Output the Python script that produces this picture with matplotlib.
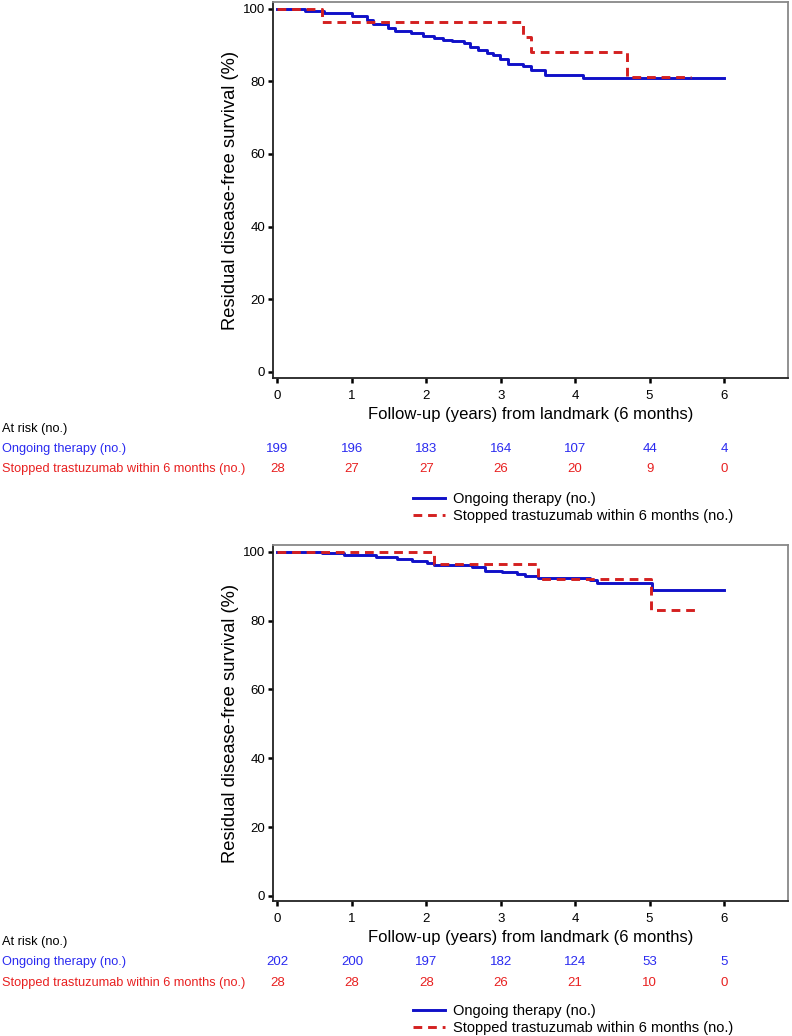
import matplotlib.pyplot as plt
from matplotlib.lines import Line2D
from matplotlib.transforms import blended_transform_factory

plt.rcParams['font.family'] = ['Liberation Sans', 'DejaVu Sans']

# Panel A (top): Kaplan-Meier steps
top_ongoing_t = [0, 0.37, 0.62, 1.0, 1.2, 1.29, 1.49, 1.58, 1.79, 1.96, 2.1, 2.23, 2.35, 2.5, 2.59,
                 2.7, 2.82, 2.9, 2.99, 3.1, 3.3, 3.4, 3.6, 4.1, 6.0]
top_ongoing_s = [100, 99.5, 98.7, 98.1, 97.0, 95.8, 94.8, 93.9, 93.3, 92.6, 92.0, 91.4, 91.0, 90.5, 89.5,
                 88.7, 87.9, 87.2, 86.1, 84.9, 84.3, 83.1, 81.8, 80.9, 80.9]
top_stopped_t = [0, 0.6, 3.3, 3.4, 4.7, 5.55]
top_stopped_s = [100, 96.4, 92.2, 88.0, 81.2, 81.2]
top_risk_ongoing = [199, 196, 183, 164, 107, 44, 4]
top_risk_stopped = [28, 27, 27, 26, 20, 9, 0]

# Panel B (bottom)
bot_ongoing_t = [0, 0.6, 0.89, 1.32, 1.6, 1.81, 2.01, 2.1, 2.61, 2.79, 3.02, 3.22, 3.33, 3.5, 4.2,
                 4.29, 5.03, 6.0]
bot_ongoing_s = [100, 99.5, 99.0, 98.5, 97.9, 97.3, 96.6, 96.1, 95.6, 94.5, 94.0, 93.5, 93.0, 92.4, 91.7,
                 90.8, 88.8, 88.8]
bot_stopped_t = [0, 2.1, 3.5, 5.02, 5.61]
bot_stopped_s = [100, 96.4, 92.2, 83.0, 83.0]
bot_risk_ongoing = [202, 200, 197, 182, 124, 53, 5]
bot_risk_stopped = [28, 28, 28, 26, 21, 10, 0]

years = [0, 1, 2, 3, 4, 5, 6]
yticks = [0, 20, 40, 60, 80, 100]
label_ongoing = 'Ongoing therapy (no.)'
label_stopped = 'Stopped trastuzumab within 6 months (no.)'

blue = '#1010c8'
red = '#d42020'
blue_txt = '#2a2af0'
red_txt = '#e82020'

W, H = 792, 1036
fig = plt.figure(figsize=(W / 100, H / 100), dpi=100)


def panel(top_px, bottom_px, ylo, yhi, ongoing_t, ongoing_s, stopped_t, stopped_s, risk_o, risk_s, rows_px):
    ax = fig.add_axes([273 / W, 1 - bottom_px / H, (788 - 273) / W, (bottom_px - top_px) / H])
    ax.step(ongoing_t, ongoing_s, where='post', color=blue, lw=2.1)
    ax.step(stopped_t, stopped_s, where='post', color=red, lw=2.1, dashes=(3, 2))
    ax.set_xlim(-0.06, 6.86)
    ax.set_ylim(ylo, yhi)
    ax.set_xticks(years)
    ax.set_yticks(yticks)
    ax.tick_params(labelsize=9.5, length=3.5, width=1.8, pad=2)
    ax.tick_params(axis='x', pad=5)
    for s in ['left', 'bottom']:
        ax.spines[s].set_linewidth(1.3)
        ax.spines[s].set_color('#222222')
    for s in ['top', 'right']:
        ax.spines[s].set_linewidth(1.3)
        ax.spines[s].set_color('#888888')
    ax.set_ylabel('Residual disease-free survival (%)', fontsize=13.2, labelpad=3)
    ax.set_xlabel('Follow-up (years) from landmark (6 months)', fontsize=12, labelpad=4)

    # number-at-risk table
    tr = blended_transform_factory(ax.transData, fig.transFigure)
    y_head, y_o, y_s, y_leg = rows_px
    fig.text(2 / W, 1 - y_head / H, 'At risk (no.)', fontsize=9.2, va='center')
    fig.text(2 / W, 1 - y_o / H, label_ongoing, fontsize=9.2, va='center', color=blue_txt)
    fig.text(2 / W, 1 - y_s / H, label_stopped, fontsize=9.2, va='center', color=red_txt)
    for x, a, b in zip(years, risk_o, risk_s):
        ax.text(x, 1 - y_o / H, str(a), transform=tr, ha='center', va='center', fontsize=9.5, color=blue_txt)
        ax.text(x, 1 - y_s / H, str(b), transform=tr, ha='center', va='center', fontsize=9.5, color=red_txt)

    handles = [Line2D([], [], color=blue, lw=2.1),
               Line2D([], [], color=red, lw=2.1, dashes=(3, 2))]
    ax.legend(handles, [label_ongoing, label_stopped], loc='upper left',
              bbox_to_anchor=(407 / W, 1 - y_leg / H), bbox_transform=fig.transFigure,
              frameon=False, fontsize=10.5, handlelength=2.2, handletextpad=0.55,
              labelspacing=0.2, borderaxespad=0)
    return ax


panel(2, 378, -1.74, 101.86, top_ongoing_t, top_ongoing_s, top_stopped_t, top_stopped_s,
      top_risk_ongoing, top_risk_stopped, (429, 449, 469, 486))
panel(545, 901, -1.5, 101.95, bot_ongoing_t, bot_ongoing_s, bot_stopped_t, bot_stopped_s,
      bot_risk_ongoing, bot_risk_stopped, (942, 962, 983, 998))

fig.savefig('out.png', dpi=100)
